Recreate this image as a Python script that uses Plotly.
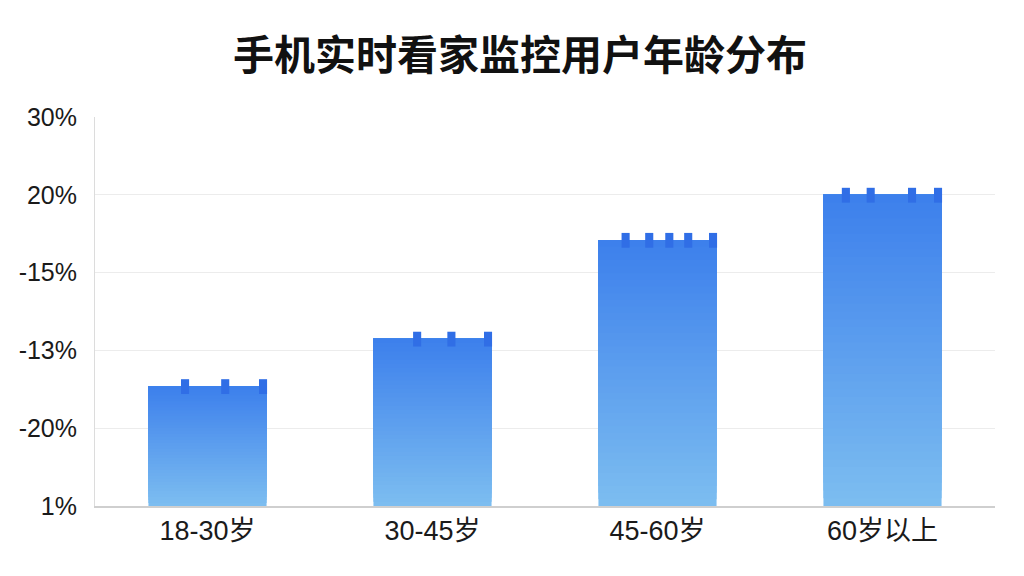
import plotly.graph_objects as go

# chart data (y is in grid steps; tick labels are shown as in the source)
categories = ["18-30岁", "30-45岁", "45-60岁", "60岁以上"]
values = [1.54, 2.15, 3.42, 4.0]
y_tick_vals = [0, 1, 2, 3, 4, 5]
y_tick_text = ["1%", "-20%", "-13%", "-15%", "20%", "30%"]
# small notches on top of each bar, as offsets across the bar width
notch_offsets = [
    [-0.19, 0.15, 0.47],
    [-0.13, 0.16, 0.47],
    [-0.27, -0.07, 0.10, 0.26, 0.47],
    [-0.31, -0.10, 0.25, 0.47],
]

bar_width = 0.525
top_rgb = (61, 128, 236)
bottom_rgb = (124, 189, 240)
n_slices = 40

x_pos = list(range(len(categories)))

fig = go.Figure()

# vertical gradient: each slice runs from its base to the bar top,
# later (higher) slices are drawn over earlier ones -> no seams
for i in range(n_slices):
    t = i / (n_slices - 1)
    r, g, b = [round(bottom_rgb[k] + (top_rgb[k] - bottom_rgb[k]) * t) for k in range(3)]
    fig.add_trace(go.Bar(
        x=x_pos,
        base=[v * i / n_slices for v in values],
        y=[v * (n_slices - i) / n_slices for v in values],
        width=bar_width,
        marker=dict(color=f"rgb({r},{g},{b})", line=dict(width=0)),
        hoverinfo="skip",
        showlegend=False,
    ))

notch_x, notch_base = [], []
for xi, v, offs in zip(x_pos, values, notch_offsets):
    for o in offs:
        notch_x.append(xi + o * bar_width)
        notch_base.append(v - 0.10)

fig.add_trace(go.Bar(
    x=notch_x,
    base=notch_base,
    y=[0.19] * len(notch_x),
    width=0.036,
    marker=dict(color="#306ee6", line=dict(width=0)),
    hoverinfo="skip",
    showlegend=False,
))

fig.update_layout(
    width=1024,
    height=576,
    barmode="overlay",
    plot_bgcolor="white",
    paper_bgcolor="white",
    margin=dict(l=87, r=37, t=109, b=78),
    title=dict(
        text="手机实时看家监控用户年龄分布",
        x=0.5,
        xanchor="center",
        y=0.918,
        yanchor="middle",
        font=dict(family="Noto Sans CJK SC", size=41, color="#111111", weight="bold"),
    ),
    font=dict(family="Liberation Sans, Noto Sans CJK SC", color="#1a1a1a"),
)

fig.update_xaxes(
    range=[-0.5, 3.5],
    tickvals=x_pos,
    ticktext=categories,
    tickfont=dict(size=27, color="#1a1a1a"),
    showgrid=False,
    zeroline=False,
    showline=True,
    linecolor="#cfcfcf",
    linewidth=1.5,
    ticks="",
)

fig.update_yaxes(
    range=[0, 5],
    tickvals=y_tick_vals,
    ticktext=y_tick_text,
    tickfont=dict(size=25, color="#1a1a1a"),
    showgrid=True,
    gridcolor="#ececec",
    gridwidth=1,
    zeroline=False,
    showline=True,
    linecolor="#dcdcdc",
    linewidth=1,
    ticks="",
    ticklabelstandoff=12,
)

fig.write_html("out.html")
